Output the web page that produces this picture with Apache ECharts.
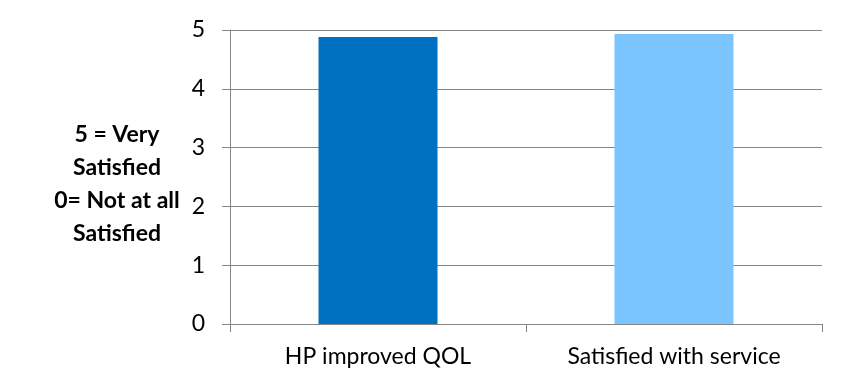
<!DOCTYPE html>
<html>
<head>
<meta charset="utf-8">
<style>
  html, body { margin: 0; padding: 0; background: #ffffff; }
  #chart { width: 854px; height: 371px; }
</style>
<script src="https://cdn.jsdelivr.net/npm/echarts@6/dist/echarts.min.js"></script>
</head>
<body>
<div id="chart"></div>
<script>
// Survey results: mean satisfaction scores on a 0–5 scale
const categories = ['HP improved QOL', 'Satisfied with service'];
const scores = [4.88, 4.93];
const barColors = ['#0070C0', '#7AC5FF'];
const yTicks = [0, 1, 2, 3, 4, 5];

const FONT = 'Lato, "Open Sans", sans-serif';

const chart = echarts.init(document.getElementById('chart'), null, { renderer: 'canvas' });

chart.setOption({
  animation: false,
  backgroundColor: '#ffffff',
  title: {
    text: '5 = Very\nSatisfied\n0= Not at all\nSatisfied',
    left: 112,
    top: 113,
    textAlign: 'center',
    textStyle: {
      fontFamily: FONT,
      fontSize: 23,
      fontWeight: 'bold',
      color: '#000000',
      lineHeight: 33
    }
  },
  grid: { left: 230, right: 32, top: 30, bottom: 47, containLabel: false },
  xAxis: {
    type: 'category',
    data: categories,
    axisLine: { show: true, lineStyle: { color: '#868686', width: 1 } },
    axisTick: { show: true, length: 8, alignWithLabel: false, lineStyle: { color: '#868686' } },
    axisLabel: { fontFamily: FONT, fontSize: 23, color: '#000000', margin: 21 }
  },
  yAxis: {
    type: 'value',
    min: yTicks[0],
    max: yTicks[yTicks.length - 1],
    interval: 1,
    axisLine: { show: true, lineStyle: { color: '#868686', width: 1 } },
    axisTick: { show: true, length: 8, lineStyle: { color: '#868686' } },
    axisLabel: { fontFamily: FONT, fontSize: 23, color: '#000000', margin: 25 },
    splitLine: { show: true, lineStyle: { color: '#868686', width: 1 } }
  },
  series: [{
    type: 'bar',
    barWidth: 119,
    data: scores.map((v, i) => ({ value: v, itemStyle: { color: barColors[i] } }))
  }]
});
</script>
</body>
</html>
